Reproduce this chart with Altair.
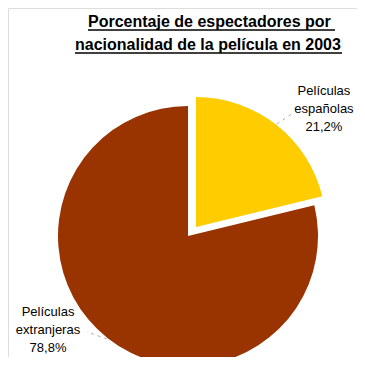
import math
import altair as alt
import pandas as pd

# ---- data ----
categories = ["Películas españolas", "Películas extranjeras"]
values = [21.2, 78.8]
pct_labels = ["21,2%", "78,8%"]
colors = ["#FFCC00", "#993300"]
title_lines = ["Porcentaje de espectadores por ", "nacionalidad de la película en 2003"]

df = pd.DataFrame({
    "category": categories,
    "value": values,
    "order": [0, 1],
    "label": [c.replace(" ", "\n") + "\n" + p for c, p in zip(categories, pct_labels)],
})

W, H = 349, 349
R = 130
FONT = "Liberation Sans"
theta_scale = alt.Scale(domain=[0, 100])
color_scale = alt.Scale(domain=categories, range=colors)

base = alt.Chart(df).transform_stack(
    stack="value", groupby=[], as_=["v0", "v1"], sort=[alt.SortField("order")]
).transform_calculate(
    mid="(datum.v0 + datum.v1) / 2 * 2 * PI / 100"
)

# pie centres (layout); the Spanish slice is pulled out along its mid angle
centers = {0: (188, 219), 1: (180, 228)}
label_shift = {0: (18, 4), 1: (-30, -64)}

layers = []
for i, cat in enumerate(categories):
    cx, cy = centers[i]
    sub = base.transform_filter(alt.datum.order == i)
    arc = sub.mark_arc(outerRadius=R, stroke=None).encode(
        theta=alt.Theta("v0:Q", scale=theta_scale),
        theta2="v1:Q",
        color=alt.Color("category:N", scale=color_scale, legend=None),
        x=alt.value(cx),
        y=alt.value(cy),
    )
    layers.append(arc)

# leader lines
lead_r = base.transform_filter(alt.datum.order == 0).transform_calculate(
    x1=f"{centers[0][0]} + {R + 1} * sin(datum.mid)",
    y1=f"{centers[0][1]} - {R + 1} * cos(datum.mid)",
    x2=f"{centers[0][0]} + 150 * sin(datum.mid + 0.04)",
    y2=f"{centers[0][1]} - 150 * cos(datum.mid + 0.04)",
).mark_rule(color="#b0b0b0", strokeDash=[3, 4], strokeWidth=1).encode(
    x=alt.X("x1:Q", scale=None), y=alt.Y("y1:Q", scale=None),
    x2="x2:Q", y2="y2:Q",
)
lead_l = base.transform_filter(alt.datum.order == 1).transform_calculate(
    x1=f"{centers[1][0]} + {R + 1} * sin(datum.mid)",
    y1=f"{centers[1][1]} - {R + 1} * cos(datum.mid)",
    x2=f"{centers[1][0]} + {R + 1} * sin(datum.mid) - 20",
    y2=f"{centers[1][1]} - {R + 1} * cos(datum.mid) - 7",
).mark_rule(color="#b0b0b0", strokeDash=[3, 4], strokeWidth=1).encode(
    x=alt.X("x1:Q", scale=None), y=alt.Y("y1:Q", scale=None),
    x2="x2:Q", y2="y2:Q",
)
layers += [lead_r, lead_l]

for i in range(2):
    cx, cy = centers[i]
    dx, dy = label_shift[i]
    txt = base.transform_filter(alt.datum.order == i).transform_calculate(
        lx=f"{cx} + 178 * sin(datum.mid) + {dx}",
        ly=f"{cy} - 178 * cos(datum.mid) + {dy}",
    ).mark_text(
        font=FONT, fontSize=13, lineBreak="\n", lineHeight=18,
        align="center", baseline="middle", color="#000000",
    ).encode(
        x=alt.X("lx:Q", scale=None), y=alt.Y("ly:Q", scale=None), text="label:N"
    )
    layers.append(txt)

# title (two lines, bold, underlined)
tdf = pd.DataFrame({"t": title_lines, "i": [0, 1]})
title_x = [80, 67]
title_y = [19, 42]
under_w = [247, 267]
for i in range(2):
    t = alt.Chart(tdf).transform_filter(alt.datum.i == i).mark_text(
        font=FONT, fontSize=16, fontWeight="bold", align="left",
        baseline="alphabetic", color="#000000",
    ).encode(x=alt.value(title_x[i]), y=alt.value(title_y[i]), text="t:N")
    u = alt.Chart(tdf).transform_filter(alt.datum.i == i).mark_rule(
        color="#000000", strokeWidth=1.6
    ).encode(
        x=alt.value(title_x[i]), x2=alt.value(title_x[i] + under_w[i]),
        y=alt.value(title_y[i] + 3),
    )
    layers += [t, u]

chart = alt.layer(*layers).properties(
    width=W, height=H,
    autosize=alt.AutoSizeParams(type="none"),
    padding=0,
).configure_view(stroke=None).configure(background="#ffffff")

chart.save("out.html", embed_options={"renderer": "svg", "actions": False})
